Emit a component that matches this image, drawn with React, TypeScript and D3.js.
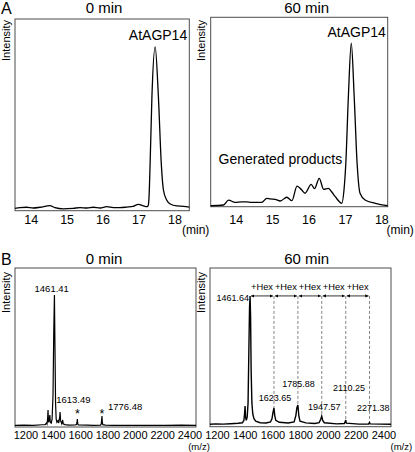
import React from 'react';
import * as d3 from 'd3';

// ---------- data ----------
const timeTicks = [14, 15, 16, 17, 18];
const mzTicks = [1200, 1400, 1600, 1800, 2000, 2200, 2400];

// HPLC chromatogram, 0 min: [retention time (min), intensity (%)]
const chrom0: [number, number][] = [
  [13.55, 1.25], [13.69, 1.6], [13.87, 1.8], [14.06, 1.4], [14.25, 1.8], [14.52, 2.6],
  [14.66, 1.6], [14.89, 1.0], [15.17, 1.25], [15.36, 1.6], [15.55, 1.4], [15.73, 1.8],
  [15.92, 1.4], [16.1, 2.1], [16.29, 1.6], [16.47, 1.6], [16.66, 1.9], [16.84, 2.3],
  [16.98, 3.3], [17.12, 2.5], [17.23, 2.1], [17.26, 3.0], [17.28, 7.3], [17.31, 24.7],
  [17.36, 59.5], [17.45, 85.5], [17.54, 59.5], [17.62, 24.7], [17.68, 10.8], [17.77, 5.6],
  [17.87, 3.5], [18.05, 2.5], [18.24, 2.3], [18.4, 1.9],
];

// HPLC chromatogram, 60 min
const chrom60: [number, number][] = [
  [13.3, 0.5], [13.65, 0.9], [13.79, 3.5], [13.97, 2.3], [14.15, 2.6], [14.29, 2.5],
  [14.43, 2.3], [14.7, 2.3], [14.84, 4.4], [14.93, 4.1], [15.07, 3.9], [15.21, 3.0],
  [15.39, 5.0], [15.53, 3.2], [15.67, 10.9], [15.8, 8.8], [15.89, 7.1], [16.06, 11.8],
  [16.15, 9.5], [16.28, 15.0], [16.4, 9.2], [16.53, 9.7], [16.62, 7.9], [16.72, 5.3],
  [16.9, 1.8], [16.96, 8.8], [17.01, 22.9], [17.08, 58.1], [17.16, 86.3], [17.24, 58.1],
  [17.32, 22.9], [17.4, 7.1], [17.54, 3.5], [17.82, 1.8], [18.16, 0.5],
];

// MALDI-TOF spectrum, 0 min: [m/z, intensity (%)]
const spec0: [number, number][] = [
  [1200, 1.0], [1260, 1.2], [1320, 1.0], [1380, 1.4], [1400, 1.5], [1408, 2.5], [1412, 1.8],
  [1416, 5], [1419, 10.7], [1422, 3], [1427, 4], [1431, 7.5], [1434, 3], [1440, 2.5],
  [1446, 5], [1452, 20], [1457, 60], [1461.41, 83], [1465, 50], [1469, 15], [1473, 5],
  [1478, 3], [1485, 4], [1490, 2.5], [1496, 6], [1499, 9.4], [1502, 4], [1510, 2],
  [1516, 4.4], [1520, 2], [1530, 1.5], [1560, 1.2], [1600, 1.3], [1608, 1.5], [1611, 3],
  [1613.49, 5], [1616, 2], [1620, 1.3], [1680, 1.2], [1720, 1.0], [1768, 1.2], [1772, 2],
  [1774, 4], [1776.48, 6.9], [1779, 3], [1782, 1.5], [1800, 1.2], [1850, 1.0], [1900, 1.1],
  [1950, 1.0], [2000, 1.1], [2100, 1.0], [2200, 1.0], [2300, 1.2], [2400, 1.0],
];

// MALDI-TOF spectrum, 60 min
const spec60: [number, number][] = [
  [1190, 1.5], [1230, 1.8], [1280, 1.6], [1330, 1.9], [1380, 2.2], [1410, 2.5], [1420, 4],
  [1424, 8], [1427.8, 13], [1431, 6], [1436, 4], [1442, 6], [1448, 15], [1453, 45],
  [1458, 75], [1461.64, 82.4], [1465, 70], [1469, 35], [1474, 15], [1480, 8], [1488, 5],
  [1500, 3.5], [1530, 2.5], [1570, 2.3], [1600, 3], [1610, 5], [1617, 9], [1623.65, 11.8],
  [1629, 7], [1636, 4], [1660, 2.8], [1720, 2.3], [1760, 3], [1772, 7], [1779, 12],
  [1785.88, 13.7], [1792, 7], [1800, 3.5], [1840, 2.4], [1900, 2.0], [1930, 2.6],
  [1940, 4.5], [1947.57, 6.7], [1954, 4], [1965, 2.5], [2050, 1.8], [2100, 2.0],
  [2106, 3], [2110.25, 4.2], [2114, 2.2], [2200, 1.6], [2265, 1.7], [2268, 2.2],
  [2271.38, 2.6], [2275, 1.8], [2350, 1.6], [2417, 1.5],
];

const spec0Peaks = [1461.41, 1613.49, 1776.48];
const spec0Starred = [1613.49, 1776.48];
const spec60Peaks = [1461.64, 1623.65, 1785.88, 1947.57, 2110.25, 2271.38];

const FONT = "'Liberation Sans', Arial, Helvetica, sans-serif";

function heightAt(data: [number, number][], mz: number) {
  const p = data.find((d) => d[0] === mz);
  return p ? p[1] : 0;
}

export default function App() {
  const xA0 = d3.scaleLinear().domain([13.55, 18.4]).range([15, 189.3]);
  const yA0 = d3.scaleLinear().domain([0, 100]).range([210.7, 19]);
  const xA60 = d3.scaleLinear().domain([13.3, 18.16]).range([210.7, 387.7]);
  const yA60 = d3.scaleLinear().domain([0, 100]).range([206.7, 17.3]);
  const xB0 = d3.scaleLinear().domain([1200, 2400]).range([15, 196]);
  const yB0 = d3.scaleLinear().domain([0, 100]).range([427, 268]);
  const xB60 = d3.scaleLinear().domain([1190, 2417]).range([210, 391]);
  const yB60 = d3.scaleLinear().domain([0, 100]).range([426.7, 268]);
  // tick-label placement of the m/z axes (labels sit slightly inset in the original)
  const tB0 = d3.scaleLinear().domain([1200, 2400]).range([26, 190]);
  const tB60 = d3.scaleLinear().domain([1200, 2400]).range([217.5, 384]);

  const smooth = (x: any, y: any) =>
    d3.line<[number, number]>().x((d) => x(d[0])).y((d) => y(d[1])).curve(d3.curveMonotoneX);
  const straight = (x: any, y: any) =>
    d3.line<[number, number]>().x((d) => x(d[0])).y((d) => y(d[1]));

  const box = (x: any, y: any) => {
    const [x0, x1] = x.range();
    const [y0, y1] = y.range();
    return (
      <rect x={x0} y={y1} width={x1 - x0} height={y0 - y1} fill="none" stroke="#4d4d4d" strokeWidth={1} />
    );
  };

  const intensityLabel = (x: number, yTop: number) => (
    <text transform={`translate(${x},${yTop}) rotate(-90)`} textAnchor="end" fontSize={11} fontFamily={FONT}>
      Intensity
    </text>
  );

  const arrowY = yB60(heightAt(spec60, spec60Peaks[0]));
  const hexPairs = d3.pairs(spec60Peaks);

  const b60LabelLayout = [
    { dx: -1, y: 300.5, anchor: 'end' },
    { dx: 1, y: 401, anchor: 'middle' },
    { dx: 0.5, y: 387, anchor: 'middle' },
    { dx: 2.6, y: 409.5, anchor: 'middle' },
    { dx: 3.3, y: 391, anchor: 'middle' },
    { dx: 3.8, y: 411, anchor: 'middle' },
  ];
  const b0LabelLayout = [
    { dx: -2.7, y: 292, anchor: 'middle' },
    { dx: -4, y: 403, anchor: 'middle' },
    { dx: 6, y: 410.3, anchor: 'start' },
  ];

  return (
    <svg width={415} height={452} style={{ position: 'absolute', left: 0, top: 0, background: '#fff' }} fontFamily={FONT}>
      <defs>
        <marker id="ah" viewBox="0 0 6 6" refX="6" refY="3" markerWidth="4" markerHeight="4" orient="auto-start-reverse">
          <path d="M0,0 L6,3 L0,6 Z" fill="#000" />
        </marker>
      </defs>
      <rect x={0} y={0} width={415} height={452} fill="#fff" />

      {/* panel letters */}
      <text x={1} y={13.5} fontSize={16}>A</text>
      <text x={1} y={264.5} fontSize={16}>B</text>

      {/* ---------- A, 0 min ---------- */}
      <text x={104} y={12.7} fontSize={15} textAnchor="middle">0 min</text>
      {box(xA0, yA0)}
      {intensityLabel(10, 20)}
      <path d={smooth(xA0, yA0)(chrom0) || ''} fill="none" stroke="#000" strokeWidth={1.3} />
      <text x={158} y={40} fontSize={14} textAnchor="middle">AtAGP14</text>
      {timeTicks.map((t) => (
        <text key={t} x={xA0(t)} y={224} fontSize={12.5} textAnchor="middle">{t}</text>
      ))}
      <text x={182} y={234} fontSize={12}>(min)</text>

      {/* ---------- A, 60 min ---------- */}
      <text x={306.7} y={12.5} fontSize={15} textAnchor="middle">60 min</text>
      {box(xA60, yA60)}
      {intensityLabel(205, 20)}
      <path d={smooth(xA60, yA60)(chrom60) || ''} fill="none" stroke="#000" strokeWidth={1.3} />
      <text x={356.7} y={36.5} fontSize={14} textAnchor="middle">AtAGP14</text>
      <text x={218.5} y={164} fontSize={14}>Generated products</text>
      {timeTicks.map((t) => (
        <text key={t} x={xA60(t)} y={224} fontSize={12.5} textAnchor="middle">{t}</text>
      ))}
      <text x={386.5} y={234} fontSize={12}>(min)</text>

      {/* ---------- B, 0 min ---------- */}
      <text x={104} y={264} fontSize={15} textAnchor="middle">0 min</text>
      {box(xB0, yB0)}
      {intensityLabel(10, 272)}
      <path d={straight(xB0, yB0)(spec0) || ''} fill="none" stroke="#000" strokeWidth={1.2} />
      {spec0Peaks.map((m, i) => (
        <text key={m} x={xB0(m) + b0LabelLayout[i].dx} y={b0LabelLayout[i].y} fontSize={9.5}
          textAnchor={b0LabelLayout[i].anchor as any}>{m.toFixed(2)}</text>
      ))}
      {spec0Starred.map((m) => (
        <text key={m} x={xB0(m)} y={418} fontSize={12.5} textAnchor="middle">*</text>
      ))}
      {mzTicks.map((t) => (
        <text key={t} x={tB0(t)} y={439} fontSize={11} textAnchor="middle">{t}</text>
      ))}
      <text x={199} y={450} fontSize={9.5} textAnchor="middle">(m/z)</text>

      {/* ---------- B, 60 min ---------- */}
      <text x={306.7} y={263.5} fontSize={15} textAnchor="middle">60 min</text>
      {box(xB60, yB60)}
      {intensityLabel(205, 272)}
      {spec60Peaks.slice(1).map((m) => (
        <line key={m} x1={xB60(m)} x2={xB60(m)} y1={arrowY} y2={yB60(heightAt(spec60, m))}
          stroke="#666" strokeWidth={0.8} strokeDasharray="3,2" />
      ))}
      <path d={straight(xB60, yB60)(spec60) || ''} fill="none" stroke="#000" strokeWidth={1.4} />
      {hexPairs.map(([a, b]) => (
        <g key={a}>
          <line x1={xB60(a) + 1} x2={xB60(b) - 1} y1={arrowY} y2={arrowY} stroke="#000" strokeWidth={0.8}
            markerStart="url(#ah)" markerEnd="url(#ah)" />
          <text x={(xB60(a) + xB60(b)) / 2} y={arrowY - 6} fontSize={9.3} textAnchor="middle">+Hex</text>
        </g>
      ))}
      {spec60Peaks.map((m, i) => (
        <text key={m} x={xB60(m) + b60LabelLayout[i].dx} y={b60LabelLayout[i].y} fontSize={9}
          textAnchor={b60LabelLayout[i].anchor as any}>{m.toFixed(2)}</text>
      ))}
      {mzTicks.map((t) => (
        <text key={t} x={tB60(t)} y={439} fontSize={11} textAnchor="middle">{t}</text>
      ))}
      <text x={401.3} y={450} fontSize={9.5} textAnchor="middle">(m/z)</text>
    </svg>
  );
}
